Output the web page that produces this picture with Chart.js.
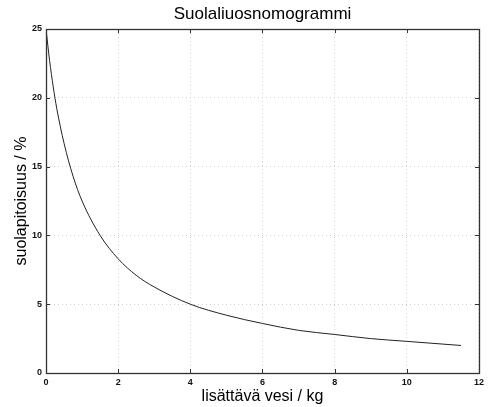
<!DOCTYPE html>
<html>
<head>
<meta charset="utf-8">
<script src="https://cdn.jsdelivr.net/npm/chart.js@4"></script>
<style>
  html, body { margin: 0; padding: 0; background: #fff; }
  #wrap { width: 488px; height: 407px; }
</style>
</head>
<body>
<div id="wrap"><canvas id="chart" width="488" height="407"></canvas></div>
<script>
// values
const water = [0, 0.1, 0.2, 0.3, 0.5, 0.75, 1, 1.5, 2, 2.5, 3, 4, 5, 6, 7, 8, 9, 10, 11, 11.5];
const salt = [25, 22.7, 20.8, 19.2, 16.7, 14.3, 12.5, 10, 8.3, 7.1, 6.25, 5, 4.2, 3.6, 3.1, 2.8, 2.5, 2.3, 2.1, 2.0];
const xTicks = [0, 2, 4, 6, 8, 10, 12];
const yTicks = [0, 5, 10, 15, 20, 25];

const points = water.map((x, i) => ({ x: x, y: salt[i] }));

// box + inward ticks on all four sides
const boxPlugin = {
  id: "box",
  afterDraw(chart) {
    const { ctx, chartArea: a, scales } = chart;
    ctx.save();
    ctx.strokeStyle = "#333";
    ctx.lineWidth = 1;
    ctx.beginPath();
    for (const v of xTicks) {
      const px = Math.round(scales.x.getPixelForValue(v)) + 0.5;
      ctx.moveTo(px, a.bottom); ctx.lineTo(px, a.bottom - 4);
      ctx.moveTo(px, a.top); ctx.lineTo(px, a.top + 4);
    }
    for (const v of yTicks) {
      const py = Math.round(scales.y.getPixelForValue(v)) + 0.5;
      ctx.moveTo(a.left, py); ctx.lineTo(a.left + 4, py);
      ctx.moveTo(a.right, py); ctx.lineTo(a.right - 4, py);
    }
    ctx.stroke();
    ctx.lineWidth = 1.3;
    ctx.strokeRect(Math.round(a.left) + 0.5, Math.round(a.top) + 0.5,
      Math.round(a.right - a.left), Math.round(a.bottom - a.top));
    ctx.restore();
  }
};

const sans = "Liberation Sans, Arial, sans-serif";
const tickFont = { family: sans, size: 9, weight: "bold" };

new Chart(document.getElementById("chart"), {
  type: "scatter",
  data: {
    datasets: [{
      data: points,
      showLine: true,
      borderColor: "#222",
      borderWidth: 1,
      pointRadius: 0,
      cubicInterpolationMode: "monotone"
    }]
  },
  options: {
    responsive: false,
    animation: false,
    layout: { padding: { left: 0, right: 4, top: 0, bottom: 0 } },
    plugins: {
      legend: { display: false },
      tooltip: { enabled: false },
      title: {
        display: true,
        fullSize: false,
        text: "Suolaliuosnomogrammi",
        color: "#000",
        font: { family: sans, size: 17, weight: "normal" },
        padding: { top: 4, bottom: 4.6 }
      }
    },
    scales: {
      x: {
        type: "linear",
        min: 0, max: 12,
        afterBuildTicks: (s) => { s.ticks = xTicks.map(v => ({ value: v })); },
        afterFit: (s) => { s.height = 34; },
        grid: { color: "#cfcfcf", drawTicks: false },
        border: { display: false, dash: [1, 3] },
        ticks: { padding: 4, color: "#111", font: tickFont },
        title: {
          display: true,
          text: "lisättävä vesi / kg",
          color: "#000",
          font: { family: sans, size: 16 },
          padding: { top: 0, bottom: 1 }
        }
      },
      y: {
        type: "linear",
        min: 0, max: 25,
        afterBuildTicks: (s) => { s.ticks = yTicks.map(v => ({ value: v })); },
        afterFit: (s) => { s.width = 46; },
        grid: { color: "#cfcfcf", drawTicks: false },
        border: { display: false, dash: [1, 3] },
        ticks: { padding: 4, color: "#111", font: tickFont },
        title: {
          display: true,
          text: "suolapitoisuus / %",
          color: "#000",
          font: { family: sans, size: 16 },
          padding: { top: 12, bottom: 4 }
        }
      }
    }
  },
  plugins: [boxPlugin]
});
</script>
</body>
</html>
